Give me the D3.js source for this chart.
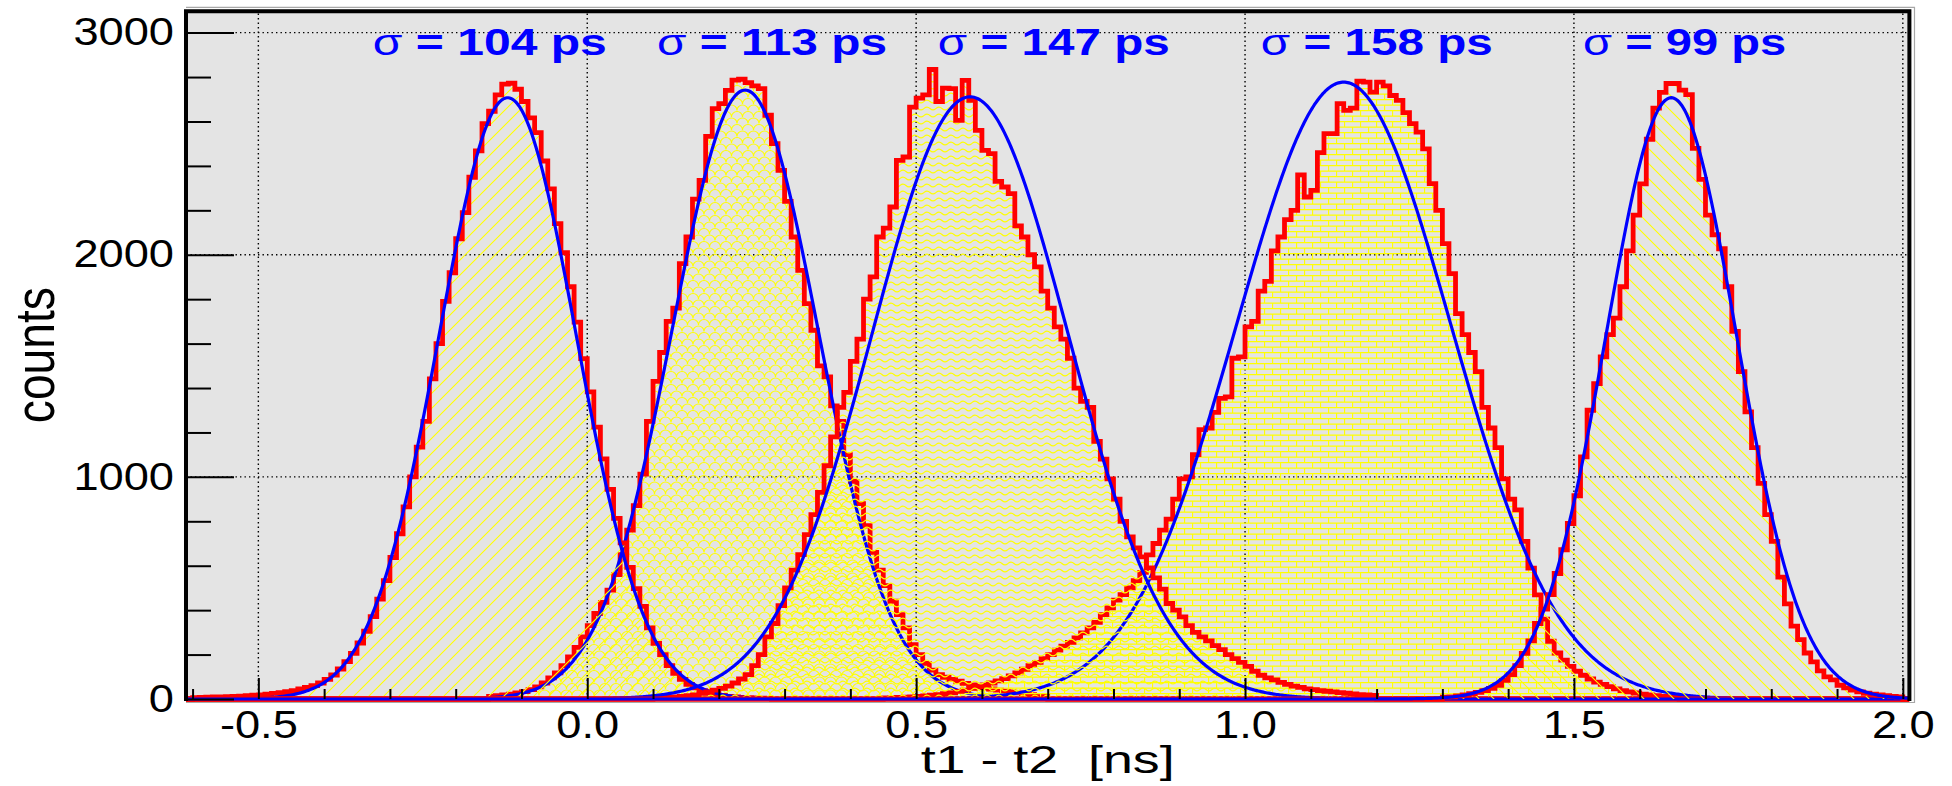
<!DOCTYPE html>
<html>
<head>
<meta charset="utf-8">
<script src="https://cdn.jsdelivr.net/npm/d3@7"></script>
<style>
  body { margin: 0; background: #fff; }
  svg { display: block; }
  text { font-family: "Liberation Sans", Arial, Helvetica, sans-serif; }
</style>
</head>
<body>
<svg id="chart" width="1952" height="786"></svg>
<script>
// bin width of every histogram [ns]
var binWidth = 0.01;
// low edge of the first bin of each histogram [ns]
var histStart = [-0.60, -0.15, 0.10, 0.45, 1.30];

// counts per bin
var hist1 = [6,7,8,9,10,11,12,13,15,17,19,22,25,29,33,38,45,52,60,72,
  88,108,135,168,205,252,305,371,450,533,637,744,865,1000,1134,1250,1441,1600,1790,1919,
  2072,2190,2349,2468,2590,2646,2720,2768,2772,2745,2690,2616,2550,2422,2297,2140,2009,1856,1697,1532,
  1383,1224,1081,944,813,703,593,497,417,320,250,200,150,115,88,66,50,38,28,21,
  16,12,9,7,6,5,4,3];
var hist2 = [12,15,18,22,27,33,42,55,72,95,118,150,190,232,280,330,385,435,490,560,
  650,760,871,1012,1250,1430,1560,1700,1760,1960,2080,2250,2335,2533,2658,2680,2740,2786,2790,2775,
  2760,2748,2628,2500,2380,2240,2080,1930,1780,1660,1500,1450,1320,1250,1100,980,880,780,660,580,
  510,440,380,320,245,200,160,130,110,98,88,80,70,64,58,50,45,40,36,32,
  28,24,20,16,14];
var hist3 = [5,6,8,10,12,15,19,25,32,40,48,58,72,90,110,150,200,280,340,420,
  500,580,650,740,830,930,1050,1180,1313,1380,1520,1620,1800,1900,2080,2120,2215,2425,2440,2665,
  2705,2720,2834,2690,2750,2748,2605,2785,2695,2560,2470,2455,2330,2305,2275,2130,2080,2000,1945,1836,
  1760,1675,1620,1534,1400,1340,1313,1160,1080,991,900,800,730,680,640,590,545,495,430,400,
  370,330,300,280,262,240,222,200,182,165,147,125,107,95,86,75,66,58,52,46,
  42,38,35,32,29,26,23,20,18,16];
var hist4 = [5,6,7,8,10,12,14,17,20,24,28,34,40,48,56,64,72,82,92,104,
  118,134,150,165,182,200,220,238,255,275,298,320,345,380,410,445,470,500,533,570,
  649,700,760,810,900,991,1000,1100,1213,1220,1290,1353,1360,1534,1540,1675,1700,1836,1880,2017,
  2080,2158,2200,2360,2260,2290,2460,2545,2545,2680,2650,2660,2781,2777,2732,2777,2760,2717,2695,2640,
  2590,2552,2477,2320,2200,2050,1915,1735,1640,1560,1474,1313,1220,1132,991,900,851,710,589,469,
  360,260,207,175,147,125,107,90,76,66,56,46,38,32,27,22,18,15,12,10,8];
var hist5 = [8,10,14,18,24,30,38,48,62,84,110,150,205,262,340,405,470,565,672,790,
  915,1090,1300,1420,1540,1640,1715,1856,2017,2178,2319,2520,2660,2731,2771,2771,2741,2721,2479,2339,
  2178,2090,2027,1856,1655,1474,1293,1132,971,830,710,549,428,328,267,207,167,127,100,86,
  62,50,40,32,26,22,18,15,12,10];

// gaussian fit parameters
var fitAmp   = [2707, 2741, 2711, 2777, 2707];
var fitMean  = [-0.121, 0.240, 0.582, 1.150, 1.648];
var fitSigma = [0.104, 0.111, 0.149, 0.163, 0.099];

// resolution labels
var sigmaPs = [104, 113, 147, 158, 99];
var labelX  = [-0.326, 0.106, 0.533, 1.024, 1.514];
var labelW  = [234, 230, 232, 232, 203];
var labelY  = 2900;

var xTicks = [-0.5, 0.0, 0.5, 1.0, 1.5, 2.0];
var xMinorTicks = [-0.6,-0.4,-0.3,-0.2,-0.1,0.1,0.2,0.3,0.4,0.6,0.7,0.8,0.9,1.1,1.2,1.3,1.4,1.6,1.7,1.8,1.9];
var yTicks = [0, 1000, 2000, 3000];
var yMinorTicks = [200,400,600,800,1200,1400,1600,1800,2200,2400,2600,2800];

var hists = [hist1, hist2, hist3, hist4, hist5];
// later histograms cover the earlier ones
var drawOrder = [1, 0, 3, 2, 4];
var patternIds = ["hatchUp", "scales", "waves", "bricks", "hatchDown"];

var svg = d3.select("#chart");
var x = d3.scaleLinear().domain([-0.61, 2.01]).range([186, 1909.4]);
var y = d3.scaleLinear().domain([0, 3096]).range([699, 11.3]);
var X0 = x.range()[0], X1 = x.range()[1], Y0 = y.range()[0], Y1 = y.range()[1];
var stretch = 1.19;

svg.append("rect").attr("width", 1952).attr("height", 786).attr("fill", "#fff");

// fill patterns
var defs = svg.append("defs");
function pattern(id, w, h, d) {
  defs.append("pattern")
    .attr("id", id)
    .attr("patternUnits", "userSpaceOnUse")
    .attr("width", w).attr("height", h)
    .append("path")
      .attr("d", d)
      .attr("fill", "none")
      .attr("stroke", "#ffff00")
      .attr("stroke-width", 1.1);
}
pattern("hatchUp", 15, 15, "M0,15 L15,0 M-4,4 L4,-4 M11,19 L19,11");
pattern("hatchDown", 15, 15, "M0,0 L15,15 M-4,11 L4,19 M11,-4 L19,4");
pattern("scales", 11, 13, "M0,6.5 A5.5,5.5 0 0 1 11,6.5 M-5.5,13 A5.5,5.5 0 0 1 5.5,13 M5.5,13 A5.5,5.5 0 0 1 16.5,13 M-5.5,0 A5.5,5.5 0 0 1 5.5,0 M5.5,0 A5.5,5.5 0 0 1 16.5,0");
pattern("waves", 12, 7, "M0,3.5 Q3,0.6 6,3.5 T12,3.5");
pattern("bricks", 16, 11, "M0,0.6 H16 M0,6.1 H16 M0.6,0.6 V6.1 M8.6,6.1 V11");

defs.append("clipPath").attr("id", "plotClip")
  .append("rect")
    .attr("x", X0).attr("y", Y1)
    .attr("width", X1 - X0).attr("height", Y0 - Y1 + 3);

// outer grey border
svg.append("path")
  .attr("d", "M" + X0 + ",7.3 H1914.5 V702.5 H" + X0)
  .attr("fill", "none")
  .attr("stroke", "#a8a8a8")
  .attr("stroke-width", 1.2);

// pad
svg.append("rect")
  .attr("x", X0).attr("y", Y1)
  .attr("width", X1 - X0).attr("height", Y0 - Y1)
  .attr("fill", "#e4e4e4");

// grid
var grid = svg.append("g")
  .attr("stroke", "#000")
  .attr("stroke-width", 1.4)
  .attr("stroke-dasharray", "1.4,3.1");
grid.selectAll("line.gx").data(xTicks).enter().append("line")
  .attr("class", "gx")
  .attr("x1", function(d) { return x(d); })
  .attr("x2", function(d) { return x(d); })
  .attr("y1", Y0).attr("y2", Y1);
grid.selectAll("line.gy").data(yTicks.slice(1)).enter().append("line")
  .attr("class", "gy")
  .attr("x1", X0).attr("x2", X1)
  .attr("y1", function(d) { return y(d); })
  .attr("y2", function(d) { return y(d); });

// bottom axis line
svg.append("line")
  .attr("x1", X0).attr("x2", X1)
  .attr("y1", Y0 + 0.5).attr("y2", Y0 + 0.5)
  .attr("stroke", "#000").attr("stroke-width", 3);

// histograms and fits
function histPoints(k) {
  var s = histStart[k], vals = hists[k];
  var pts = [[x.domain()[0], 0]];
  vals.forEach(function(v, i) { pts.push([s + i * binWidth, v]); });
  pts.push([s + vals.length * binWidth, 0]);
  pts.push([x.domain()[1], 0]);
  return pts;
}
var stepArea = d3.area()
  .x(function(d) { return x(d[0]); })
  .y0(Y0)
  .y1(function(d) { return y(d[1]); })
  .curve(d3.curveStepAfter);
var stepLine = d3.line()
  .x(function(d) { return x(d[0]); })
  .y(function(d) { return y(d[1]); })
  .curve(d3.curveStepAfter);
var fitLine = d3.line()
  .x(function(d) { return x(d[0]); })
  .y(function(d) { return y(d[1]); });
var fitX = d3.range(x.domain()[0], x.domain()[1] + 0.001, 0.002);

var plot = svg.append("g").attr("clip-path", "url(#plotClip)");
drawOrder.forEach(function(k) {
  var pts = histPoints(k);
  plot.append("path")
    .attr("d", stepArea(pts))
    .attr("fill", "url(#" + patternIds[k] + ")");
  plot.append("path")
    .attr("d", stepLine(pts))
    .attr("fill", "none")
    .attr("stroke", "#ff0000")
    .attr("stroke-width", 4.8);
  var fit = fitX.map(function(t) {
    var z = (t - fitMean[k]) / fitSigma[k];
    return [t, fitAmp[k] * Math.exp(-0.5 * z * z)];
  });
  plot.append("path")
    .attr("d", fitLine(fit))
    .attr("fill", "none")
    .attr("stroke", "#0000ff")
    .attr("stroke-width", 3.2);
});

// frame
svg.append("path")
  .attr("d", "M" + X0 + "," + (Y0 + 2) + " V" + Y1 + " H" + X1 + " V" + (Y0 + 2))
  .attr("fill", "none")
  .attr("stroke", "#000")
  .attr("stroke-width", 4);

// axes
var minus = function(d) { return d3.format(".1f")(d).replace("\u2212", "-"); };

var yAxis = svg.append("g").attr("transform", "translate(" + X0 + ",0)")
  .call(d3.axisLeft(y).tickValues(yTicks).tickFormat(d3.format("d"))
    .tickSizeInner(-48).tickSizeOuter(0).tickPadding(12));
svg.append("g").attr("transform", "translate(" + X0 + ",0)")
  .call(d3.axisLeft(y).tickValues(yMinorTicks).tickFormat("")
    .tickSizeInner(-25).tickSizeOuter(0));

var xAxis = svg.append("g").attr("transform", "translate(0," + Y0 + ")")
  .call(d3.axisBottom(x).tickValues(xTicks).tickFormat(minus)
    .tickSizeInner(-21).tickSizeOuter(0).tickPadding(12));
svg.append("g").attr("transform", "translate(0," + Y0 + ")")
  .call(d3.axisBottom(x).tickValues(xMinorTicks).tickFormat("")
    .tickSizeInner(-10).tickSizeOuter(0));

svg.selectAll(".domain").remove();
svg.selectAll(".tick line").attr("stroke", "#000").attr("stroke-width", 2);
svg.selectAll(".tick text")
  .attr("fill", "#000")
  .style("font-size", "38px")
  .style("font-family", "'Liberation Sans', Arial, sans-serif");
yAxis.selectAll(".tick text")
  .attr("x", -12 / stretch)
  .attr("transform", "scale(" + stretch + ",1)");
xAxis.selectAll(".tick text")
  .attr("transform", "scale(" + stretch + ",1)");

// axis titles
svg.append("text")
  .attr("x", (X0 + X1) / 2).attr("y", 773)
  .attr("text-anchor", "middle")
  .attr("textLength", 254)
  .attr("lengthAdjust", "spacingAndGlyphs")
  .style("font-size", "38px")
  .text("t1 - t2\u00a0 [ns]");

svg.append("text")
  .attr("transform", "translate(53.6," + ((Y0 + Y1) / 2) + ") rotate(-90)")
  .attr("text-anchor", "middle")
  .attr("textLength", 136)
  .attr("lengthAdjust", "spacingAndGlyphs")
  .style("font-size", "55px")
  .text("counts");

// sigma labels
sigmaPs.forEach(function(s, i) {
  var t = svg.append("text")
    .attr("x", x(labelX[i])).attr("y", y(labelY))
    .attr("textLength", labelW[i])
    .attr("lengthAdjust", "spacingAndGlyphs")
    .attr("fill", "#0000ff")
    .style("font-size", "37px");
  t.append("tspan").style("font-weight", "normal").text("\u03c3");
  t.append("tspan").style("font-weight", "bold").text(" = " + s + " ps");
});
</script>
</body>
</html>
